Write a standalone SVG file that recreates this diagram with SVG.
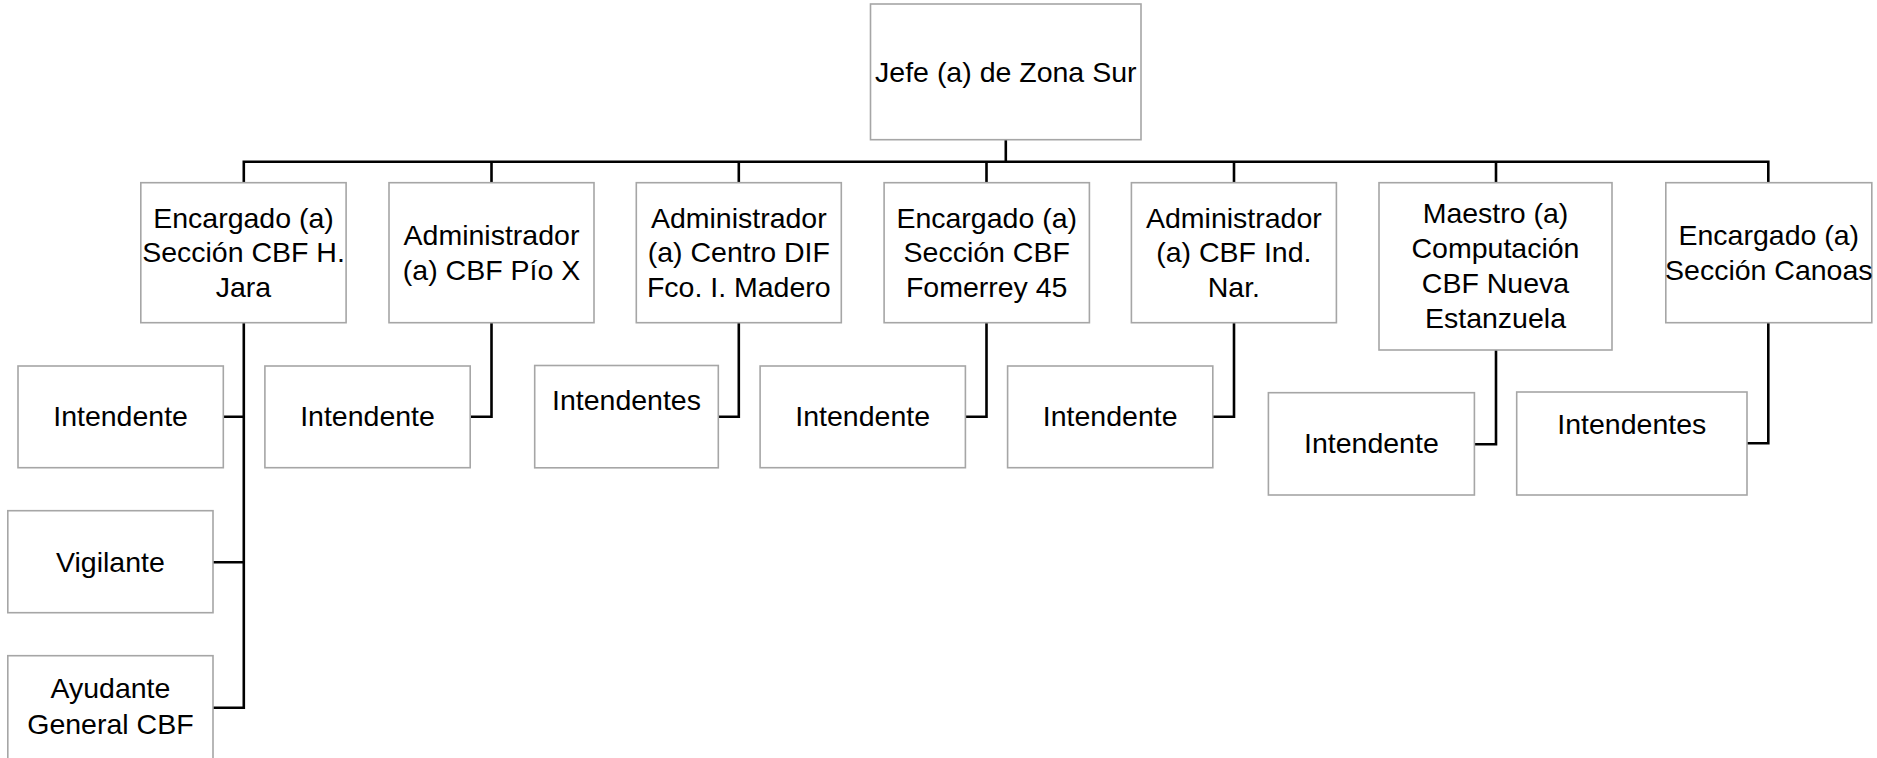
<svg xmlns="http://www.w3.org/2000/svg" width="1877" height="758" viewBox="0 0 1877 758">
<style>
.box{fill:#ffffff;stroke:#a6a6a6;stroke-width:1.6}
.t{font-family:"Liberation Sans",Arial,sans-serif;font-size:28.5px;fill:#000000;text-anchor:middle}
.c{fill:none;stroke:#000000;stroke-width:2.6;stroke-linejoin:miter}
</style>
<rect width="1877" height="758" fill="#ffffff"/>
<g id="connectors">
<path class="c" d="M1005.8 139.7 V161.7"/>
<path class="c" d="M243.8 182.7 V161.7 H1768.3 V182.7"/>
<path class="c" d="M491.5 161.7 V182.7 M738.8 161.7 V182.7 M986.5 161.7 V182.7 M1234 161.7 V182.7 M1496 161.7 V182.7"/>
<path class="c" d="M243.8 322.7 V707.7 H213 M243.8 416.7 H223.3 M243.8 562.3 H213"/>
<path class="c" d="M491.5 322.7 V416.7 H470.2"/>
<path class="c" d="M738.8 322.7 V416.7 H718.3"/>
<path class="c" d="M986.5 322.7 V416.7 H965.4"/>
<path class="c" d="M1234 322.7 V416.7 H1212.8"/>
<path class="c" d="M1496 350 V444.3 H1474.4"/>
<path class="c" d="M1768.3 322.7 V443.3 H1747"/>
</g>
<g id="jefe">
<rect class="box" x="870.5" y="4" width="270.5" height="135.7"/>
<text class="t" x="1005.8" y="81.7">Jefe (a) de Zona Sur</text>
</g>
<g id="encargado-jara">
<rect class="box" x="140.8" y="182.7" width="205.3" height="140"/>
<text class="t" x="243.5" y="227.5">Encargado (a)</text>
<text class="t" x="243.5" y="262.3">Sección CBF H.</text>
<text class="t" x="243.5" y="297">Jara</text>
</g>
<g id="admin-pio">
<rect class="box" x="389" y="182.7" width="205" height="140"/>
<text class="t" x="491.5" y="245">Administrador</text>
<text class="t" x="491.5" y="280">(a) CBF Pío X</text>
</g>
<g id="admin-dif">
<rect class="box" x="636.3" y="182.7" width="205" height="140"/>
<text class="t" x="738.8" y="227.5">Administrador</text>
<text class="t" x="738.8" y="262.3">(a) Centro DIF</text>
<text class="t" x="738.8" y="297">Fco. I. Madero</text>
</g>
<g id="encargado-fomerrey">
<rect class="box" x="884.1" y="182.7" width="205.3" height="140"/>
<text class="t" x="986.7" y="227.5">Encargado (a)</text>
<text class="t" x="986.7" y="262.3">Sección CBF</text>
<text class="t" x="986.7" y="297">Fomerrey 45</text>
</g>
<g id="admin-indnar">
<rect class="box" x="1131.4" y="182.7" width="205" height="140"/>
<text class="t" x="1233.9" y="227.5">Administrador</text>
<text class="t" x="1233.9" y="262.3">(a) CBF Ind.</text>
<text class="t" x="1233.9" y="297">Nar.</text>
</g>
<g id="maestro">
<rect class="box" x="1379" y="182.7" width="233" height="167.3"/>
<text class="t" x="1495.5" y="222.7">Maestro (a)</text>
<text class="t" x="1495.5" y="258">Computación</text>
<text class="t" x="1495.5" y="293">CBF Nueva</text>
<text class="t" x="1495.5" y="328">Estanzuela</text>
</g>
<g id="encargado-canoas">
<rect class="box" x="1665.8" y="182.7" width="206" height="140"/>
<text class="t" x="1768.8" y="245">Encargado (a)</text>
<text class="t" x="1768.8" y="279.5">Sección Canoas</text>
</g>
<g id="intendente-jara">
<rect class="box" x="18" y="366" width="205.3" height="101.7"/>
<text class="t" x="120.6" y="426">Intendente</text>
</g>
<g id="vigilante">
<rect class="box" x="7.8" y="510.7" width="205.2" height="102"/>
<text class="t" x="110.4" y="571.7">Vigilante</text>
</g>
<g id="ayudante">
<rect class="box" x="7.8" y="655.7" width="205.2" height="106"/>
<text class="t" x="110.4" y="698.3">Ayudante</text>
<text class="t" x="110.4" y="734.3">General CBF</text>
</g>
<g id="intendente-pio">
<rect class="box" x="264.9" y="366" width="205.3" height="101.7"/>
<text class="t" x="367.5" y="426">Intendente</text>
</g>
<g id="intendentes-dif">
<rect class="box" x="534.7" y="365.5" width="183.6" height="102.3"/>
<text class="t" x="626.5" y="410">Intendentes</text>
</g>
<g id="intendente-fomerrey">
<rect class="box" x="760.1" y="366" width="205.3" height="101.7"/>
<text class="t" x="862.7" y="426">Intendente</text>
</g>
<g id="intendente-indnar">
<rect class="box" x="1007.6" y="366" width="205.2" height="101.7"/>
<text class="t" x="1110.2" y="426">Intendente</text>
</g>
<g id="intendente-maestro">
<rect class="box" x="1268.4" y="392.7" width="206" height="102.3"/>
<text class="t" x="1371.4" y="453.3">Intendente</text>
</g>
<g id="intendentes-canoas">
<rect class="box" x="1516.7" y="392" width="230.3" height="103"/>
<text class="t" x="1631.8" y="434">Intendentes</text>
</g>
</svg>
